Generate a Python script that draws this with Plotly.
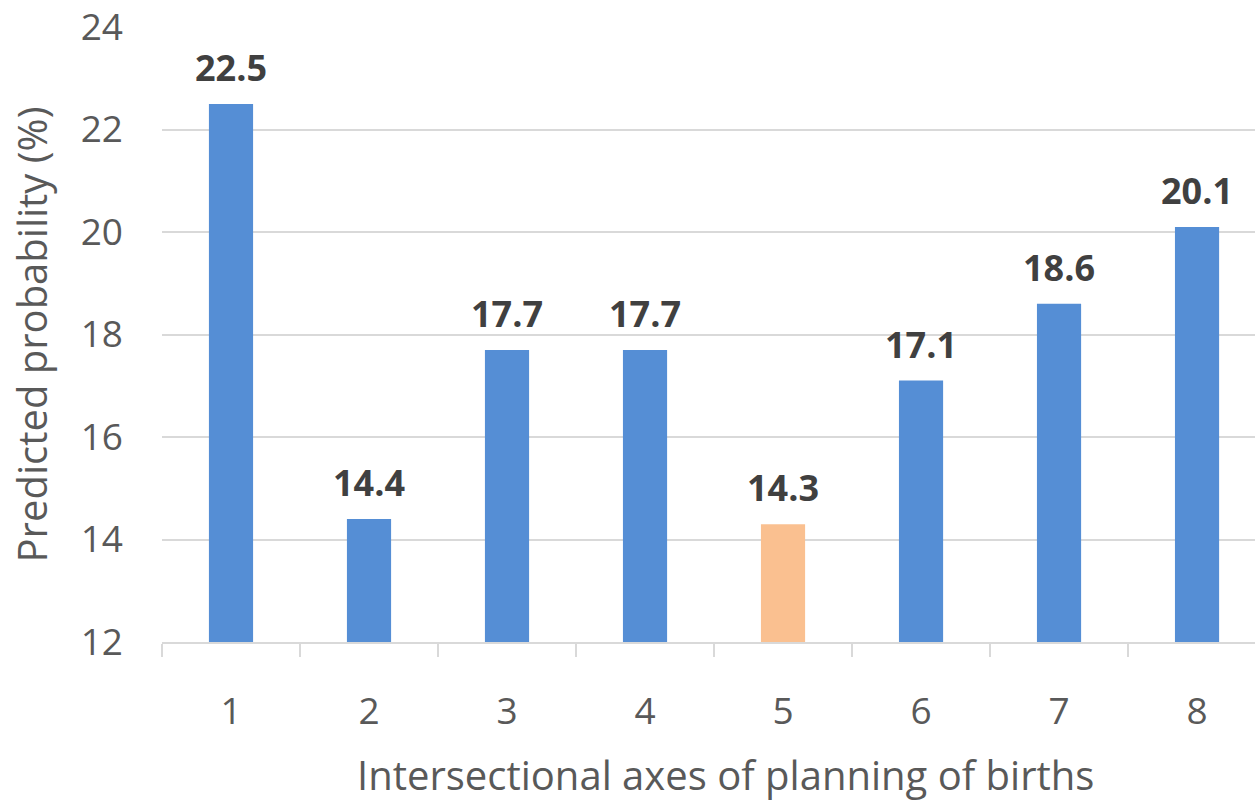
import plotly.graph_objects as go

categories = [1, 2, 3, 4, 5, 6, 7, 8]
values = [22.5, 14.4, 17.7, 17.7, 14.3, 17.1, 18.6, 20.1]
colors = ["#558ED5", "#558ED5", "#558ED5", "#558ED5", "#FAC090", "#558ED5", "#558ED5", "#558ED5"]
y_ticks = [12, 14, 16, 18, 20, 22, 24]

FONT = "Open Sans"

fig = go.Figure()
fig.add_trace(go.Bar(x=categories, y=values, marker=dict(color=colors, line=dict(width=0)),
                     width=0.32))

for c, v in zip(categories, values):
    fig.add_annotation(x=c, y=v, text=f"<b>{v:.1f}</b>", showarrow=False,
                       yanchor="bottom", yshift=10,
                       font=dict(family=FONT, size=36, color="#404040"))

# x-axis title (placed as annotation to match horizontal position)
fig.add_annotation(xref="paper", yref="paper", x=(725 - 162) / 1093, y=-(774 - 642) / 615,
                   xanchor="center", yanchor="middle", showarrow=False,
                   text="Intersectional axes of planning of births",
                   font=dict(family=FONT, size=40, color="#595959"))

fig.update_layout(
    width=1255, height=806,
    margin=dict(l=162, r=0, t=27, b=164),
    paper_bgcolor="white", plot_bgcolor="white",
    showlegend=False,
    font=dict(family=FONT, color="#595959"),
    xaxis=dict(
        range=[0.5, 8.42], tickmode="array", tickvals=categories,
        ticktext=[str(c) for c in categories],
        tickfont=dict(size=37, color="#595959"),
        ticks="", ticklabelstandoff=36,
        showline=True, linecolor="#D9D9D9", linewidth=1.5,
        showgrid=False, zeroline=False,
        minor=dict(tickmode="array", tickvals=[0.5, 1.5, 2.5, 3.5, 4.5, 5.5, 6.5, 7.5, 8.5],
                   ticks="outside", ticklen=13, tickcolor="#D9D9D9", tickwidth=1.5, showgrid=False),
    ),
    yaxis=dict(
        range=[12, 24], tickvals=y_ticks,
        tickfont=dict(size=37, color="#595959"),
        ticks="", ticklabelstandoff=38, ticklabeloverflow="allow",
        showgrid=True, gridcolor="#D9D9D9", gridwidth=1.5,
        showline=False, zeroline=False,
        title=dict(text="Predicted probability (%)",
                   font=dict(size=40, color="#595959"), standoff=20),
    ),
)

fig.write_html("out.html")
